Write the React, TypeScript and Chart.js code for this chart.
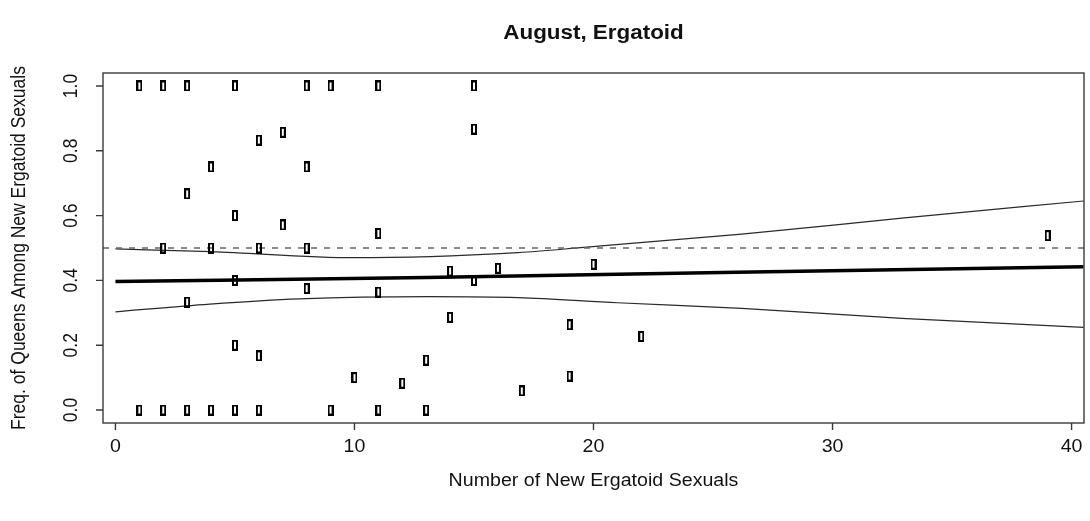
import { useEffect, useRef } from "react";
import { Chart, registerables } from "chart.js";

Chart.register(...registerables);

// ---- text ----
const chartTitle = "August, Ergatoid";
const xAxisTitle = "Number of New Ergatoid Sexuals";
const yAxisTitle = "Freq. of Queens Among New Ergatoid Sexuals";

// ---- ticks ----
const xTickValues = [0, 10, 20, 30, 40];
const xTickLabels = ["0", "10", "20", "30", "40"];
const yTickValues = [0, 0.2, 0.4, 0.6, 0.8, 1.0];
const yTickLabels = ["0.0", "0.2", "0.4", "0.6", "0.8", "1.0"];

// ---- axis ranges ----
const xLimits = [-0.52, 40.52];
const yLimits = [-0.04, 1.04];

// ---- observed colonies ----
const newSexuals = [
  1, 2, 3, 5, 8, 9, 11, 15,
  6, 7, 15,
  4, 8,
  3,
  5, 7,
  11,
  2, 4, 6, 8,
  39,
  5, 15, 14, 16, 20,
  3, 8, 11,
  14, 19, 22,
  5, 6, 13,
  10, 12, 17, 19,
  1, 2, 3, 4, 5, 6, 9, 11, 13,
];
const queenFreq = [
  1, 1, 1, 1, 1, 1, 1, 1,
  0.833, 0.857, 0.867,
  0.75, 0.75,
  0.667,
  0.6, 0.571,
  0.545,
  0.5, 0.5, 0.5, 0.5,
  0.538,
  0.4, 0.4, 0.429, 0.4375, 0.45,
  0.333, 0.375, 0.364,
  0.286, 0.263, 0.227,
  0.2, 0.167, 0.154,
  0.1, 0.083, 0.059, 0.105,
  0, 0, 0, 0, 0, 0, 0, 0, 0,
];

// ---- fitted curve and confidence band ----
const fitX = [0, 13, 26, 40.5];
const fitY = [0.397, 0.409, 0.425, 0.442];
const upperX = [0, 4, 10, 16.85, 19.6, 26.2, 32.9, 40.5];
const upperY = [0.497, 0.489, 0.47, 0.486, 0.502, 0.543, 0.592, 0.645];
const lowerX = [0, 3.95, 7.7, 13.1, 16.85, 21.0, 26.2, 32.9, 40.5];
const lowerY = [0.303, 0.327, 0.343, 0.35, 0.347, 0.331, 0.314, 0.283, 0.255];
const referenceLevel = 0.5;

const FONT = "'Liberation Sans', Arial, Helvetica, sans-serif";
const BASE = 17.5;
const SX = 1.12;
const INK = "#111";
const FRAME = "#3a3a3a";

function drawText(
  ctx: CanvasRenderingContext2D,
  text: string,
  x: number,
  y: number,
  font: string,
  rotate = false
) {
  ctx.save();
  ctx.translate(x, y);
  ctx.scale(SX, 1);
  if (rotate) ctx.rotate(-Math.PI / 2);
  ctx.font = font;
  ctx.textAlign = "center";
  ctx.textBaseline = "middle";
  ctx.fillStyle = INK;
  ctx.fillText(text, 0, 0);
  ctx.restore();
}

function makeMarker(): HTMLCanvasElement {
  const c = document.createElement("canvas");
  c.width = 6;
  c.height = 11;
  const g = c.getContext("2d")!;
  g.strokeStyle = "#000";
  g.lineWidth = 2;
  g.strokeRect(1, 1, 4, 9);
  return c;
}

const framePlugin = {
  id: "rframe",
  afterDatasetsDraw(chart: any) {
    const { ctx, chartArea } = chart;
    const xs = chart.scales.x;
    const ys = chart.scales.y;
    const { left, right, top, bottom } = chartArea;
    ctx.save();
    ctx.strokeStyle = FRAME;
    ctx.lineWidth = 1.4;
    ctx.strokeRect(left, top, right - left, bottom - top);
    ctx.beginPath();
    xTickValues.forEach((v) => {
      const px = xs.getPixelForValue(v);
      ctx.moveTo(px, bottom);
      ctx.lineTo(px, bottom + 7);
    });
    yTickValues.forEach((v) => {
      const py = ys.getPixelForValue(v);
      ctx.moveTo(left, py);
      ctx.lineTo(left - 7, py);
    });
    ctx.stroke();
    ctx.restore();

    const tickFont = `${BASE}px ${FONT}`;
    xTickValues.forEach((v, i) => {
      drawText(ctx, xTickLabels[i], xs.getPixelForValue(v), bottom + 24, tickFont);
    });
    yTickValues.forEach((v, i) => {
      drawText(ctx, yTickLabels[i], left - 31, ys.getPixelForValue(v), tickFont, true);
    });
    drawText(ctx, xAxisTitle, (left + right) / 2, bottom + 58, tickFont);
    drawText(ctx, yAxisTitle, left - 83, (top + bottom) / 2, tickFont, true);
    drawText(ctx, chartTitle, (left + right) / 2, 33, `bold 20px ${FONT}`);
  },
};

export default function App() {
  const ref = useRef<HTMLCanvasElement | null>(null);

  useEffect(() => {
    if (!ref.current) return;
    const marker = makeMarker();
    const pts = newSexuals.map((x, i) => ({ x, y: queenFreq[i] }));
    const chart = new Chart(ref.current, {
      type: "scatter",
      data: {
        datasets: [
          {
            label: "colonies",
            data: pts,
            pointStyle: marker as any,
            pointRadius: 5,
            showLine: false,
          },
          {
            label: "reference",
            data: [
              { x: xLimits[0], y: referenceLevel },
              { x: xLimits[1], y: referenceLevel },
            ],
            showLine: true,
            borderColor: "#666",
            borderWidth: 1.3,
            borderDash: [6, 7],
            pointRadius: 0,
          },
          {
            label: "upper",
            data: upperX.map((x, i) => ({ x, y: upperY[i] })),
            showLine: true,
            borderColor: "#2a2a2a",
            borderWidth: 1.2,
            cubicInterpolationMode: "monotone",
            pointRadius: 0,
          },
          {
            label: "lower",
            data: lowerX.map((x, i) => ({ x, y: lowerY[i] })),
            showLine: true,
            borderColor: "#2a2a2a",
            borderWidth: 1.2,
            cubicInterpolationMode: "monotone",
            pointRadius: 0,
          },
          {
            label: "fit",
            data: fitX.map((x, i) => ({ x, y: fitY[i] })),
            showLine: true,
            borderColor: "#000",
            borderWidth: 3.5,
            cubicInterpolationMode: "monotone",
            pointRadius: 0,
          },
        ],
      },
      options: {
        responsive: false,
        animation: false,
        devicePixelRatio: 1,
        layout: { padding: { left: 103, top: 73, right: 1, bottom: 98 } },
        plugins: {
          legend: { display: false },
          title: { display: false },
          tooltip: { enabled: false },
        },
        scales: {
          x: { type: "linear", min: xLimits[0], max: xLimits[1], display: false },
          y: { type: "linear", min: yLimits[0], max: yLimits[1], display: false },
        },
      },
      plugins: [framePlugin],
    });
    return () => chart.destroy();
  }, []);

  return (
    <div style={{ position: "fixed", left: 0, top: 0, width: 1090, height: 521, background: "#fff" }}>
      <canvas ref={ref} width={1090} height={521} />
    </div>
  );
}
